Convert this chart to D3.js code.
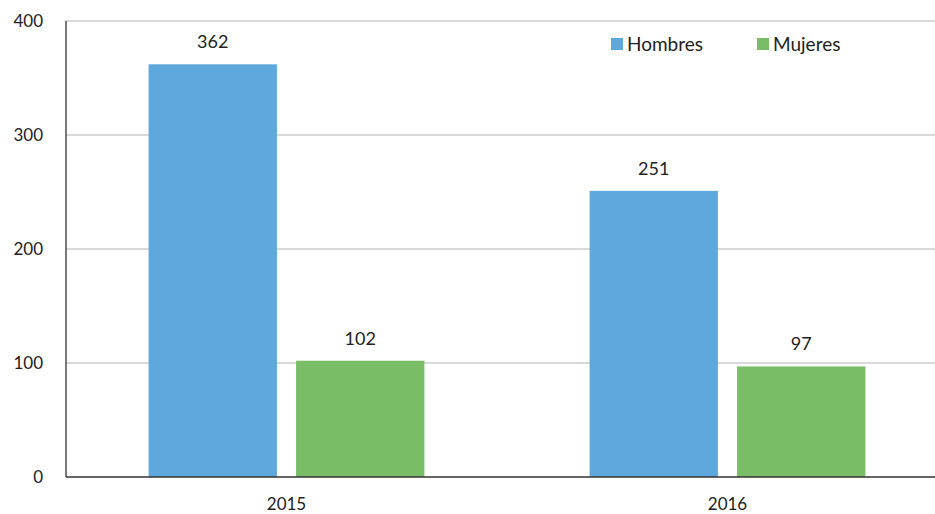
<!DOCTYPE html>
<html>
<head>
<meta charset="utf-8">
<script src="https://cdnjs.cloudflare.com/ajax/libs/d3/7.8.5/d3.min.js"></script>
<style>
  body { margin: 0; background: #fff; }
  text { font-family: Lato, "Noto Sans", sans-serif; fill: #222; }
</style>
</head>
<body>
<div class="chart"></div>
<script>
// Personas por sexo, 2015-2016
var years = ["2015", "2016"];
var series = ["Hombres", "Mujeres"];
var hombres = [362, 251];
var mujeres = [102, 97];
var yTicks = [0, 100, 200, 300, 400];

var colors = { Hombres: "#5fa8dc", Mujeres: "#7abd67" };

var svgWidth = 935;
var svgHeight = 514;
var margin = { top: 21, right: -13, bottom: 37, left: 66 };
var width = svgWidth - margin.left - margin.right;
var height = svgHeight - margin.top - margin.bottom;

var data = years.map(function(y, i) {
    return { year: y, Hombres: hombres[i], Mujeres: mujeres[i] };
});

var svg = d3.select(".chart").append("svg")
    .attr("width", svgWidth)
    .attr("height", svgHeight);

var chartGroup = svg.append("g")
    .attr("transform", `translate(${margin.left}, ${margin.top})`);

// scales
var x0 = d3.scaleBand().domain(years).range([0, width]).padding(0);
var x1 = d3.scaleBand().domain(series).range([0, x0.bandwidth()])
    .paddingInner(0.13).paddingOuter(0.56);
var y = d3.scaleLinear().domain([0, 400]).range([height, 0]);

// gridlines
chartGroup.append("g")
    .selectAll("line")
    .data(yTicks.filter(d => d > 0))
    .join("line")
    .attr("x1", 0).attr("x2", width)
    .attr("y1", d => y(d)).attr("y2", d => y(d))
    .attr("stroke", "#b3b3b3")
    .attr("stroke-width", 1.2);

// y axis labels
var leftAxis = d3.axisLeft(y).tickValues(yTicks).tickSize(0).tickPadding(23);
var yAxis = chartGroup.append("g").call(leftAxis);
yAxis.select(".domain").remove();
yAxis.selectAll("text")
    .style("font-size", "17px")
    .style("font-family", "Lato, 'Noto Sans', sans-serif")
    .attr("fill", "#222");

// bars
var groups = chartGroup.selectAll(".yr")
    .data(data)
    .join("g")
    .attr("class", "yr")
    .attr("transform", d => `translate(${x0(d.year)},0)`);

groups.selectAll("rect")
    .data(d => series.map(s => ({ key: s, value: d[s] })))
    .join("rect")
    .attr("x", d => x1(d.key))
    .attr("y", d => y(d.value))
    .attr("width", x1.bandwidth())
    .attr("height", d => height - y(d.value))
    .attr("fill", d => colors[d.key]);

groups.selectAll(".val")
    .data(d => series.map(s => ({ key: s, value: d[s] })))
    .join("text")
    .attr("class", "val")
    .attr("x", d => x1(d.key) + x1.bandwidth() / 2)
    .attr("y", d => y(d.value) - 16)
    .attr("text-anchor", "middle")
    .style("font-size", "18px")
    .text(d => d.value);

// axis lines
chartGroup.append("line")
    .attr("x1", 0).attr("x2", 0).attr("y1", 0).attr("y2", height)
    .attr("stroke", "#333").attr("stroke-width", 1.3);
chartGroup.append("line")
    .attr("x1", 0).attr("x2", width).attr("y1", height).attr("y2", height)
    .attr("stroke", "#333").attr("stroke-width", 1.3);

// x labels
var bottomAxis = d3.axisBottom(x0).tickSize(0).tickPadding(21);
var xAxis = chartGroup.append("g")
    .attr("transform", `translate(0, ${height})`)
    .call(bottomAxis);
xAxis.select(".domain").remove();
xAxis.selectAll("text")
    .style("font-size", "17px")
    .style("font-family", "Lato, 'Noto Sans', sans-serif")
    .attr("fill", "#222");

// legend
var legendX = [611, 757];
var legend = svg.selectAll(".leg")
    .data(series)
    .join("g")
    .attr("class", "leg")
    .attr("transform", (d, i) => `translate(${legendX[i]}, 38)`);
legend.append("rect")
    .attr("width", 12).attr("height", 12)
    .attr("fill", d => colors[d]);
legend.append("text")
    .attr("x", 16).attr("y", 6)
    .attr("dy", "0.35em")
    .style("font-size", "19px")
    .text(d => d);
</script>
</body>
</html>
